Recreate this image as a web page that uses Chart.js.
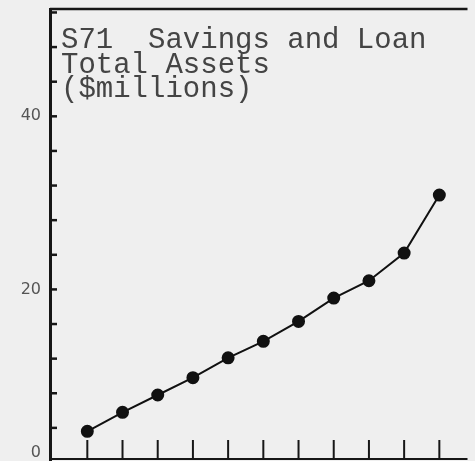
<!DOCTYPE html>
<html>
<head>
<meta charset="utf-8">
<script src="https://cdn.jsdelivr.net/npm/chart.js@4.4.0/dist/chart.umd.min.js"></script>
<style>
  html, body { margin: 0; padding: 0; background: #efefef; overflow: hidden; }
  #wrap { width: 475px; height: 470px; }
</style>
</head>
<body>
<div id="wrap"><canvas id="canvas"></canvas></div>
<script>
// values, one point per period
var periods = [1, 2, 3, 4, 5, 6, 7, 8, 9, 10, 11];
var assets = [3.6, 5.8, 7.8, 9.8, 12.1, 14.0, 16.3, 19.0, 21.0, 24.2, 30.9];
var yTickLabels = [0, 20, 40];
var titleLines = ['S71  Savings and Loan', 'Total Assets', '($millions)'];

var points = periods.map(function (p, i) { return { x: i, y: assets[i] }; });

// frame, inward tick marks and the typed title
var framePlugin = {
  id: 'frame',
  afterDraw: function (chart) {
    var ctx = chart.ctx;
    var a = chart.chartArea;
    var xs = chart.scales.x, ys = chart.scales.y;
    var base = Math.min(ys.getPixelForValue(0), 461) - 2;
    ctx.save();
    ctx.strokeStyle = '#161616';
    // top line
    ctx.lineWidth = 2.5;
    ctx.beginPath();
    ctx.moveTo(a.left, a.top);
    ctx.lineTo(a.right, a.top);
    ctx.stroke();
    // bottom line
    ctx.lineWidth = 2;
    ctx.beginPath();
    ctx.moveTo(a.left, base);
    ctx.lineTo(a.right, base);
    ctx.stroke();
    // left axis ticks every 4
    ctx.lineWidth = 2.5;
    for (var v = 4; v <= 52; v += 4) {
      var py = ys.getPixelForValue(v);
      ctx.beginPath();
      ctx.moveTo(a.left, py);
      ctx.lineTo(a.left + 7, py);
      ctx.stroke();
    }
    // bottom ticks under every point
    ctx.lineWidth = 2;
    periods.forEach(function (p, i) {
      var px = xs.getPixelForValue(i);
      ctx.beginPath();
      ctx.moveTo(px, base);
      ctx.lineTo(px, base - 19);
      ctx.stroke();
    });
    // title
    ctx.fillStyle = '#444';
    ctx.font = '29px "Liberation Mono", "DejaVu Sans Mono", monospace';
    ctx.textBaseline = 'alphabetic';
    titleLines.forEach(function (t, i) {
      ctx.fillText(t, a.left + 11, 48 + i * 24.5);
    });
    ctx.restore();
  }
};

window.onload = function () {
  var ctx = document.getElementById('canvas').getContext('2d');
  new Chart(ctx, {
    type: 'line',
    data: {
      datasets: [{
        data: points,
        borderColor: '#111',
        backgroundColor: '#111',
        borderWidth: 2,
        pointRadius: 5.5,
        pointHoverRadius: 5.5,
        tension: 0
      }]
    },
    options: {
      responsive: true,
      maintainAspectRatio: false,
      animation: false,
      layout: { padding: { top: 9, right: 0, bottom: 0, left: 0 } },
      plugins: { legend: { display: false }, tooltip: { enabled: false } },
      scales: {
        x: {
          type: 'linear',
          display: false,
          min: -1.06,
          max: 10.8
        },
        y: {
          min: 0,
          max: 52.4,
          afterFit: function (scale) {
            scale.width = 50;
            scale.paddingTop = 0;
            scale.paddingBottom = 0;
          },
          afterBuildTicks: function (scale) {
            scale.ticks = yTickLabels.map(function (v) { return { value: v }; });
          },
          grid: { display: false, drawTicks: false },
          border: { display: true, color: '#161616', width: 3 },
          ticks: {
            padding: 9,
            color: '#555',
            font: { family: 'DejaVu Sans', size: 16, weight: 'normal' },
            // the zero sits at the bottom edge, lift it a line
            callback: function (v) { return v === 0 ? ['0', ''] : String(v); }
          }
        }
      }
    },
    plugins: [framePlugin]
  });
};
</script>
</body>
</html>
